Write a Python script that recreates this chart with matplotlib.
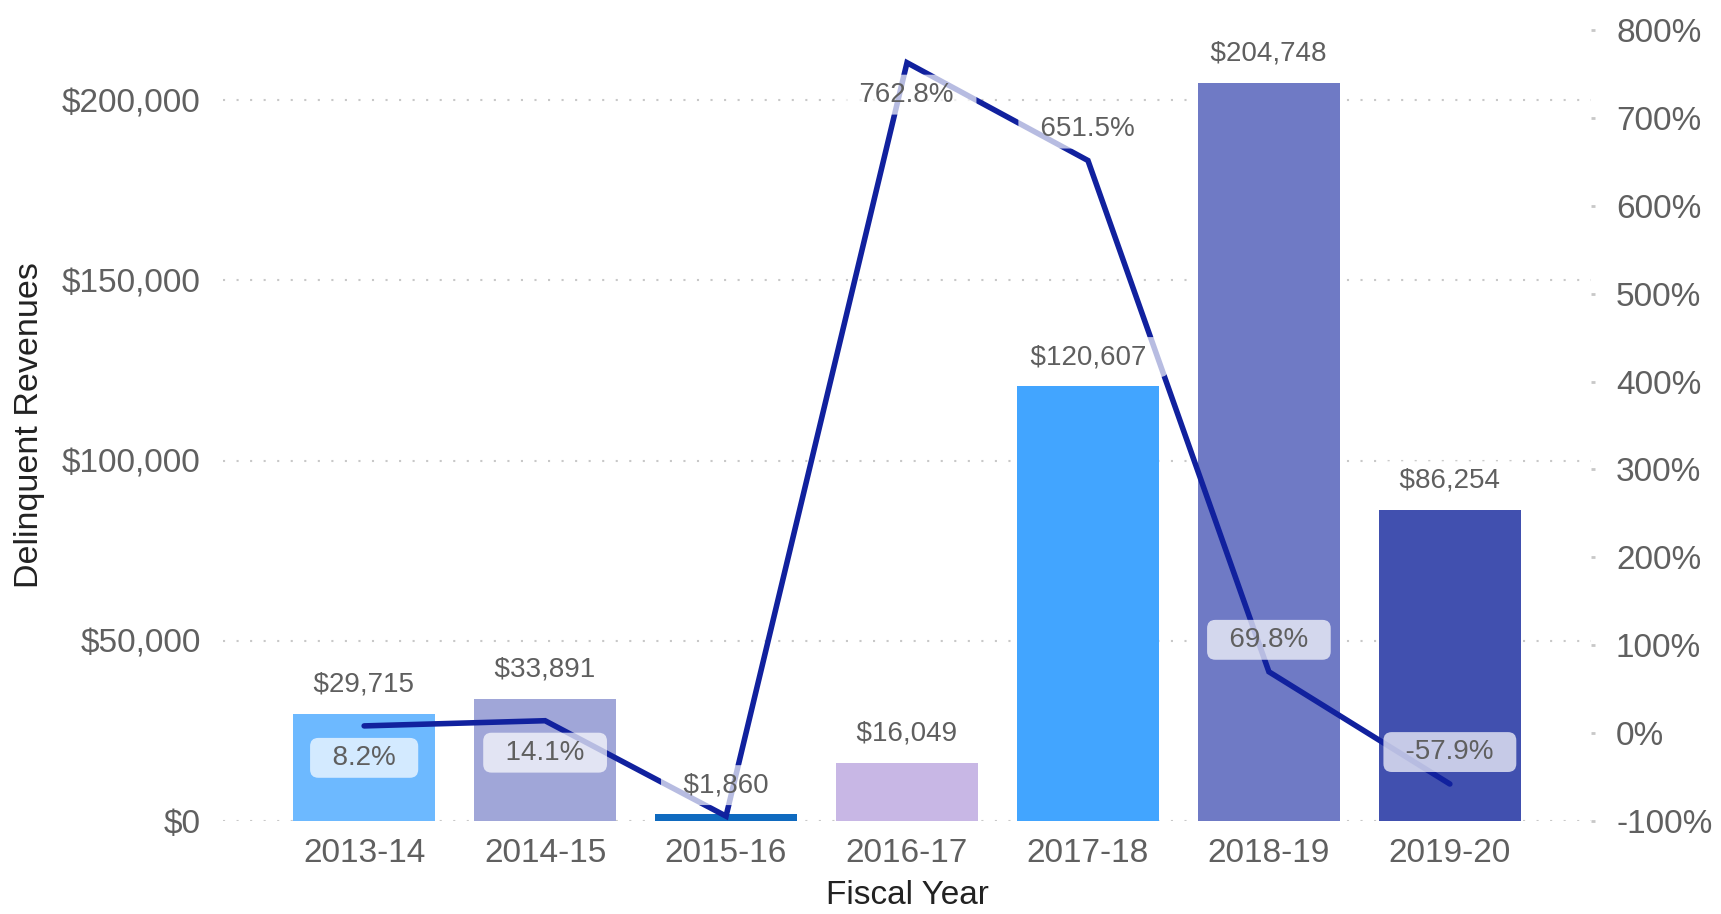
import matplotlib
matplotlib.use("Agg")
import matplotlib.pyplot as plt
from matplotlib.ticker import FuncFormatter, MultipleLocator

plt.rcParams['font.family'] = ['Liberation Sans', 'DejaVu Sans']

# ---- data ----
years = ['2013-14', '2014-15', '2015-16', '2016-17', '2017-18', '2018-19', '2019-20']
revenues = [29715, 33891, 1860, 16049, 120607, 204748, 86254]
pct_change = [8.2, 14.1, -94.5, 762.8, 651.5, 69.8, -57.9]
pct_label_side = ['below', 'below', None, 'below', 'above', 'above', 'above']
bar_colors = ['#6DB9FF', '#A0A6D8', '#0F6ABF', '#C8B7E5', '#42A5FF', '#6F7AC5', '#4150AF']
line_color = '#11219E'

# ---- figure ----
fig = plt.figure(figsize=(17.21, 9.14), dpi=100)
ax = fig.add_axes([223 / 1721, 93 / 914, (1591 - 223) / 1721, (821 - 30) / 914])
ax2 = ax.twinx()

x = list(range(len(years)))
ax.bar(x, revenues, width=0.784, color=bar_colors, zorder=2)

ax.set_xlim(-0.78, 6.78)
ax.set_ylim(0, 200000 * 791 / 721)
ax2.set_ylim(-100, 800)

# gridlines (left axis)
ax.set_axisbelow(True)
ax.yaxis.grid(True, color='#c8c8c8', linewidth=1.5, linestyle=(0, (1, 5.5)))
ax.xaxis.grid(False)
ax.yaxis.set_major_locator(MultipleLocator(50000))
ax.yaxis.set_major_formatter(FuncFormatter(lambda v, p: f"${v:,.0f}"))
ax2.yaxis.set_major_locator(MultipleLocator(100))
ax2.yaxis.set_major_formatter(FuncFormatter(lambda v, p: f"{v:.0f}%"))

for a in (ax, ax2):
    for s in a.spines.values():
        s.set_visible(False)

ax.set_xticks(x)
ax.set_xticklabels(years)
ax.tick_params(axis='x', length=0, pad=12, labelsize=24, labelcolor='#606060')
ax.tick_params(axis='y', length=0, pad=16, labelsize=24, labelcolor='#606060')
ax2.tick_params(axis='y', length=3, width=2, color='#c8c8c8', pad=15,
                labelsize=24, labelcolor='#606060')

# line on secondary axis
ax2.plot(x, pct_change, color=line_color, linewidth=4, solid_capstyle='round',
         solid_joinstyle='miter', zorder=3)

box = dict(boxstyle='round,pad=0.25,rounding_size=0.3', facecolor='white',
           edgecolor='none', alpha=0.7)

# percentage labels
for xi, val, side in zip(x, pct_change, pct_label_side):
    if side is None:
        continue
    off = -23 if side == 'below' else 23
    ax2.annotate(f"  {val:.1f}%  ", xy=(xi, val), xytext=(0, off),
                 textcoords='offset points', ha='center', va='center',
                 fontsize=20, color='#5f5f5f', bbox=box, zorder=5)

# bar value labels (drawn above the line)
for xi, val in zip(x, revenues):
    ax2.annotate(f"  ${val:,.0f}  ", xy=(xi, val), xycoords=ax.transData,
                 xytext=(0, 21), textcoords='offset points', ha='center',
                 va='center', fontsize=20, color='#5f5f5f', bbox=box, zorder=6)

# axis titles
fig.text(907 / 1721, 1 - 896 / 914, 'Fiscal Year', ha='center', va='center',
         fontsize=24, color='#222222')
fig.text(30 / 1721, 1 - 425 / 914, 'Delinquent Revenues', ha='center', va='center',
         rotation=90, fontsize=24.5, color='#222222')

fig.savefig('out.png', dpi=100)
